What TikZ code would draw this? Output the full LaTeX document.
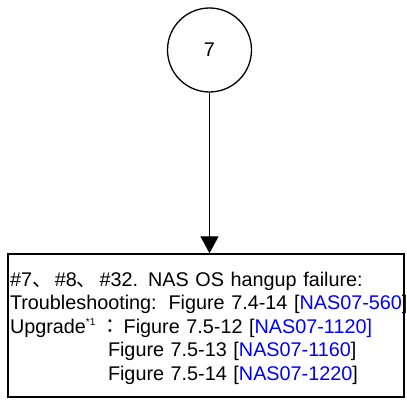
\documentclass[tikz,border=0pt]{standalone}
\usepackage{fontspec}
\setmainfont{Liberation Sans}
\newfontfamily\cjk{Noto Sans CJK JP}
\usetikzlibrary{arrows.meta}
\definecolor{linkblue}{RGB}{0,0,255}
\newcommand{\lnk}[1]{\textcolor{linkblue}{#1}}
\tikzset{
  stepcircle/.style={draw, line width=1.3pt, circle, minimum size=84pt, inner sep=0pt, font=\fontsize{19.8}{23}\selectfont},
  infobox/.style={draw, line width=1.4pt, minimum width=396pt, minimum height=143pt, inner sep=0pt},
  infotext/.style={inner xsep=0pt, inner ysep=0pt, text width=392pt, align=left, font=\fontsize{19.8}{23.5}\selectfont},
  flow/.style={line width=1.2pt, -{Triangle[length=17pt,width=18pt]}}
}
\begin{document}
\begin{tikzpicture}[x=1pt,y=1pt]
\useasboundingbox (0,0) rectangle (407,399);
\node[stepcircle] (c7) at (209.5,349) {7};
\node[infobox] (box) at (206,73.5) {};
\node[infotext] (boxtext) at ([yshift=-2.5pt]box.center) {%
\mbox{\#7{\cjk 、}\hspace{3pt}\#8{\cjk 、}\hspace{3pt}\#32.\hspace{10pt}NAS OS hangup failure:}\\
\mbox{Troubleshooting:\hspace{2pt} Figure 7.4-14 [\lnk{NAS07-560}]}\\
\mbox{Upgrade\textsuperscript{\fontsize{10}{10}\selectfont *1}\hspace{5pt}{\cjk ：}\hspace{3pt}Figure 7.5-12 [\lnk{NAS07-1120]}}\\
\mbox{\hspace*{98pt}Figure 7.5-13 [\lnk{NAS07-1160}]}\\
\mbox{\hspace*{98pt}Figure 7.5-14 [\lnk{NAS07-1220}]}};
\draw[flow] (c7.south) -- (c7.south |- box.north);
\end{tikzpicture}
\end{document}
